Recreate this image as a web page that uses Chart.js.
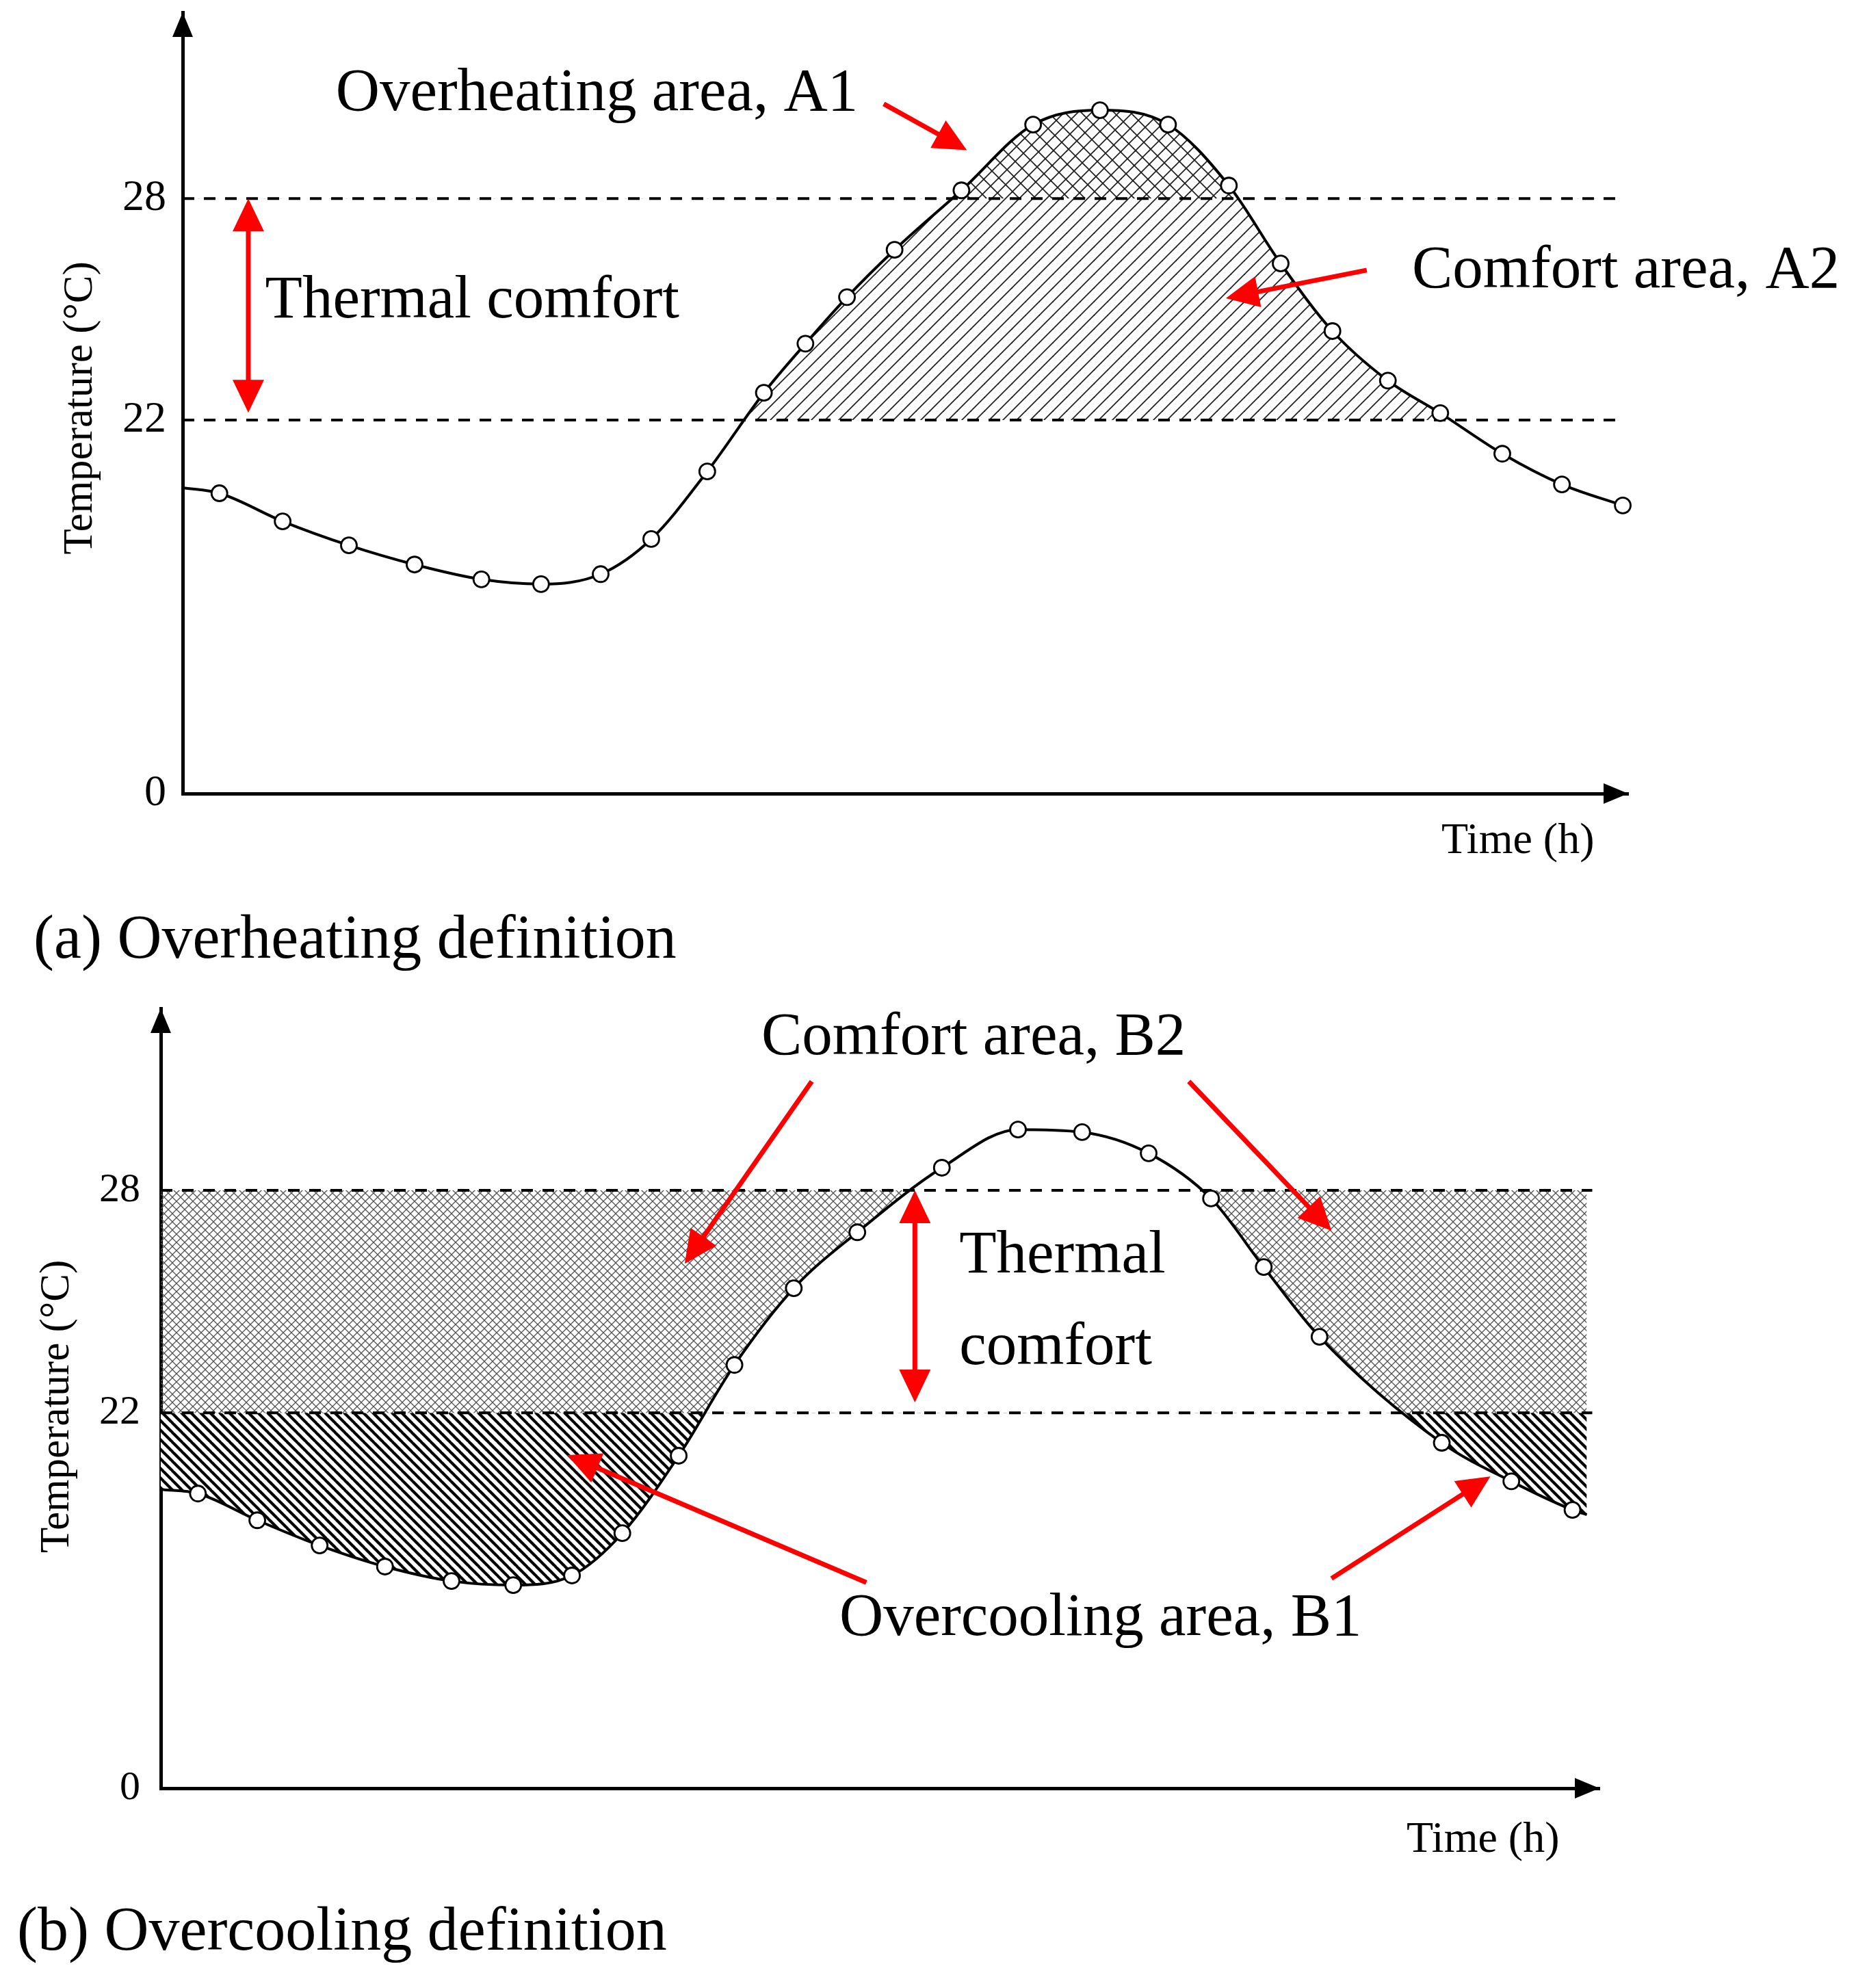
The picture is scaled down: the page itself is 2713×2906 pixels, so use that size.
<!DOCTYPE html>
<html lang="en">
<head>
<meta charset="utf-8">
<title>Overheating and overcooling definition</title>
<script src="https://cdn.jsdelivr.net/npm/chart.js@4.4.1/dist/chart.umd.min.js"></script>
<style>
  html, body { margin: 0; padding: 0; background: #fff; }
  canvas { display: block; }
</style>
</head>
<body>
<canvas id="overheatChart" width="2713" height="1450"></canvas>
<canvas id="overcoolChart" width="2713" height="1456"></canvas>
<script>
// Configuration
const SERIF = '"Liberation Serif", "Times New Roman", serif';
const RED = '#ff0000';

// Panel (a) overheating - time (h) / temperature (°C)
const overheatTime = [0, 0.61, 1.66, 2.76, 3.85, 4.96, 5.95, 6.94, 7.78, 8.71, 9.65, 10.34, 11.03,
    11.82, 12.93, 14.12, 15.23, 16.36, 17.37, 18.23, 19.09, 20.01, 20.88, 21.91, 22.90, 23.91];
const overheatTemp = [20.17, 20.02, 19.26, 18.61, 18.09, 17.69, 17.56, 17.83, 18.78, 20.61, 22.74, 24.07, 25.33,
    26.61, 28.22, 30.0, 30.39, 30.0, 28.35, 26.24, 24.41, 23.07, 22.19, 21.09, 20.26, 19.69];
const overheatRange = [11.89, 33.04];
const overheatBandX = [0, 23.91];

// Panel (b) overcooling
const overcoolTime = [0, 0.62, 1.61, 2.65, 3.74, 4.85, 5.88, 6.86, 7.70, 8.64, 9.57, 10.56,
    11.62, 13.03, 14.30, 15.37, 16.48, 17.52, 18.40, 19.33, 21.37, 22.53, 23.55, 23.79];
const overcoolTemp = [19.93, 19.82, 19.10, 18.42, 17.85, 17.46, 17.35, 17.61, 18.75, 20.84, 23.29, 25.36,
    26.87, 28.61, 29.64, 29.57, 29.0, 27.78, 25.93, 24.05, 21.19, 20.15, 19.38, 19.25];
const overcoolRange = [11.87, 32.91];
const overcoolBandX = [0, 23.88];

// Comfort band, time axis, y tick labels (axis is broken: bottom tick reads 0)
const comfortLow = 22;
const comfortHigh = 28;
const timeRange = [0, 24];
const tickLabels = ['0', '22', '28'];

// Hatch pattern tile
function hatch(dirs, size, width, color, background) {
    const tile = document.createElement('canvas');
    tile.width = size;
    tile.height = size;
    const g = tile.getContext('2d');
    if (background) {
        g.fillStyle = background;
        g.fillRect(0, 0, size, size);
    }
    g.strokeStyle = color;
    g.lineWidth = width;
    dirs.forEach(d => {
        for (let k = -1; k <= 1; k++) {
            g.beginPath();
            if (d === '/') {
                g.moveTo(k * size - 1, size + 1);
                g.lineTo(k * size + size + 1, -1);
            } else {
                g.moveTo(k * size - 1, -1);
                g.lineTo(k * size + size + 1, size + 1);
            }
            g.stroke();
        }
    });
    return g.createPattern(tile, 'repeat');
}

// Red annotation arrow (optionally double headed)
function redArrow(ctx, x1, y1, x2, y2, both) {
    const HEAD = 48, HALF = 23;
    const len = Math.hypot(x2 - x1, y2 - y1);
    ctx.save();
    ctx.translate(x1, y1);
    ctx.rotate(Math.atan2(y2 - y1, x2 - x1));
    ctx.strokeStyle = RED;
    ctx.fillStyle = RED;
    ctx.lineWidth = 7;
    ctx.beginPath();
    ctx.moveTo(both ? HEAD - 2 : 0, 0);
    ctx.lineTo(len - HEAD + 2, 0);
    ctx.stroke();
    ctx.beginPath();
    ctx.moveTo(len, 0);
    ctx.lineTo(len - HEAD, -HALF);
    ctx.lineTo(len - HEAD, HALF);
    ctx.closePath();
    ctx.fill();
    if (both) {
        ctx.beginPath();
        ctx.moveTo(0, 0);
        ctx.lineTo(HEAD, -HALF);
        ctx.lineTo(HEAD, HALF);
        ctx.closePath();
        ctx.fill();
    }
    ctx.restore();
}

const panels = [
    {
        id: 'overheatChart',
        time: overheatTime, temp: overheatTemp, range: overheatRange, bandX: overheatBandX,
        hidden: [0],
        frame: { left: 267, top: 18, right: 2380, bottom: 1160 },
        tickSize: 64, tickPad: 24,
        fills: [
            { target: comfortHigh, side: 'above', pattern: hatch(['\\'], 24, 1.8, '#222') },
            { target: comfortLow, side: 'above', pattern: hatch(['/'], 20, 1.8, '#222') }
        ],
        labels: [
            { text: 'Overheating area, A1', x: 2.54, y: 30.4 },
            { text: 'Thermal comfort', x: 1.37, y: 24.78 },
            { text: 'Comfort area, A2', x: 20.41, y: 25.59 }
        ],
        arrows: [
            { from: [1.09, 28], to: [1.09, 22.2], both: true },
            { from: [11.64, 30.56], to: [13.02, 29.31] },
            { from: [19.66, 26.06], to: [17.32, 25.30] }
        ],
        yTitle: { x: 134, at: 22.33 },
        xTitle: { dx: -273, dy: 87 },
        caption: { text: '(a) Overheating definition', x: 49, y: 1400 }
    },
    {
        id: 'overcoolChart',
        time: overcoolTime, temp: overcoolTemp, range: overcoolRange, bandX: overcoolBandX,
        hidden: [0, overcoolTime.length - 1],
        frame: { left: 235, top: 24, right: 2338, bottom: 1164 },
        tickSize: 60, tickPad: 30,
        fills: [
            { target: comfortLow, side: 'below', pattern: hatch(['\\'], 14, 4.2, '#000', '#fff') },
            { target: comfortHigh, side: 'below', pattern: hatch(['/', '\\'], 12, 1.3, '#555') }
        ],
        labels: [
            { text: 'Comfort area, B2', x: 10.02, y: 31.67 },
            { text: 'Thermal', x: 13.32, y: 25.78 },
            { text: 'comfort', x: 13.32, y: 23.31 },
            { text: 'Overcooling area, B1', x: 11.32, y: 16.0 }
        ],
        arrows: [
            { from: [12.58, 28], to: [12.58, 22.28], both: true },
            { from: [10.86, 30.94], to: [8.74, 26.02] },
            { from: [17.15, 30.94], to: [19.53, 26.91] },
            { from: [11.77, 17.42], to: [6.78, 20.86] },
            { from: [19.53, 17.53], to: [22.18, 20.28] }
        ],
        yTitle: { x: 100, at: 22.17 },
        xTitle: { dx: -282, dy: 93 },
        caption: { text: '(b) Overcooling definition', x: 25, y: 1400 }
    }
];

// Axis arrows, annotations and captions
function sketchPlugin(p) {
    return {
        id: 'sketch' + p.id,
        afterDraw(chart) {
            const { ctx, chartArea: area, scales: { x, y } } = chart;
            ctx.save();
            ctx.fillStyle = '#000';
            ctx.beginPath();
            ctx.moveTo(area.left, area.top);
            ctx.lineTo(area.left - 15, area.top + 36);
            ctx.lineTo(area.left + 15, area.top + 36);
            ctx.closePath();
            ctx.fill();
            ctx.beginPath();
            ctx.moveTo(area.right, area.bottom);
            ctx.lineTo(area.right - 36, area.bottom - 15);
            ctx.lineTo(area.right - 36, area.bottom + 15);
            ctx.closePath();
            ctx.fill();

            p.arrows.forEach(a => {
                redArrow(ctx,
                    x.getPixelForValue(a.from[0]), y.getPixelForValue(a.from[1]),
                    x.getPixelForValue(a.to[0]), y.getPixelForValue(a.to[1]), a.both);
            });

            ctx.fillStyle = '#000';
            ctx.textBaseline = 'alphabetic';
            ctx.textAlign = 'left';
            ctx.font = `89px ${SERIF}`;
            p.labels.forEach(l => {
                ctx.fillText(l.text, x.getPixelForValue(l.x), y.getPixelForValue(l.y));
            });

            ctx.font = `64px ${SERIF}`;
            ctx.fillText('Time (h)', area.right + p.xTitle.dx, area.bottom + p.xTitle.dy);

            ctx.save();
            ctx.font = `61px ${SERIF}`;
            ctx.translate(p.yTitle.x, y.getPixelForValue(p.yTitle.at));
            ctx.rotate(-Math.PI / 2);
            ctx.textAlign = 'center';
            ctx.fillText('Temperature (°C)', 0, 0);
            ctx.restore();

            ctx.font = `90px ${SERIF}`;
            ctx.fillText(p.caption.text, p.caption.x, p.caption.y);
            ctx.restore();
        }
    };
}

function buildPanel(p) {
    const canvas = document.getElementById(p.id);
    const points = p.time.map((t, i) => ({ x: t, y: p.temp[i] }));
    const bandLine = v => ({
        data: p.bandX.map(t => ({ x: t, y: v })),
        borderColor: '#000',
        borderWidth: 4,
        borderDash: [17, 14],
        pointRadius: 0,
        fill: false
    });
    const fillSets = p.fills.map(f => ({
        data: points,
        borderColor: 'transparent',
        borderWidth: 0,
        pointRadius: 0,
        cubicInterpolationMode: 'monotone',
        fill: {
            target: { value: f.target },
            above: f.side === 'above' ? f.pattern : 'transparent',
            below: f.side === 'below' ? f.pattern : 'transparent'
        }
    }));

    return new Chart(canvas, {
        type: 'line',
        data: {
            datasets: [
                {
                    data: points,
                    borderColor: '#000',
                    borderWidth: 4,
                    cubicInterpolationMode: 'monotone',
                    pointRadius: c => (p.hidden.includes(c.dataIndex) ? 0 : 11.5),
                    pointBackgroundColor: '#fff',
                    pointBorderColor: '#000',
                    pointBorderWidth: 2.8,
                    fill: false,
                    clip: false
                },
                bandLine(comfortHigh),
                bandLine(comfortLow),
                ...fillSets
            ]
        },
        options: {
            responsive: false,
            animation: false,
            devicePixelRatio: 1,
            events: [],
            layout: {
                padding: { left: 0, bottom: 0, top: p.frame.top, right: canvas.width - p.frame.right }
            },
            plugins: { legend: { display: false }, tooltip: { enabled: false } },
            scales: {
                x: {
                    type: 'linear',
                    min: timeRange[0],
                    max: timeRange[1],
                    grid: { display: false, drawTicks: false },
                    ticks: { display: false },
                    border: { display: true, color: '#000', width: 5 },
                    afterFit: s => {
                        s.height = canvas.height - p.frame.bottom;
                        s.paddingLeft = 0;
                        s.paddingRight = 0;
                    }
                },
                y: {
                    type: 'linear',
                    min: p.range[0],
                    max: p.range[1],
                    grid: { display: false, drawTicks: false },
                    border: { display: true, color: '#000', width: 5 },
                    afterBuildTicks: s => {
                        s.ticks = [p.range[0], comfortLow, comfortHigh].map(v => ({ value: v }));
                    },
                    ticks: {
                        autoSkip: false,
                        padding: p.tickPad,
                        color: '#000',
                        font: { family: SERIF, size: p.tickSize },
                        callback: (value, index) => tickLabels[index]
                    },
                    afterFit: s => {
                        s.width = p.frame.left;
                        s.paddingTop = 0;
                        s.paddingBottom = 0;
                    }
                }
            }
        },
        plugins: [sketchPlugin(p)]
    });
}

panels.forEach(buildPanel);
</script>
</body>
</html>
